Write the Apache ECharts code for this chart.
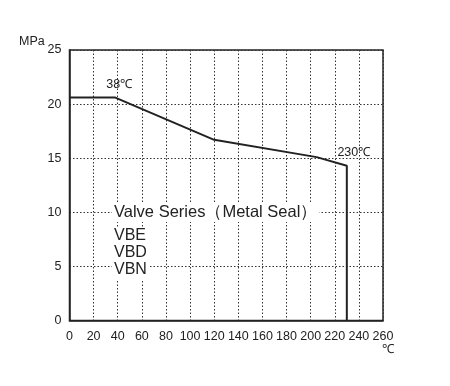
<!DOCTYPE html>
<html><head><meta charset="utf-8">
<script src="https://cdn.jsdelivr.net/npm/echarts@6/dist/echarts.min.js"></script>
<style>html,body{margin:0;padding:0;background:#fff}#c{width:450px;height:386px}</style>
</head><body><div id="c"></div>
<script>
const temps = [0, 38, 120, 205, 230, 230];
const pressures = [20.6, 20.6, 16.7, 15.1, 14.3, 0];
const xTicks = [0,20,40,60,80,100,120,140,160,180,200,220,240,260];
const yTicks = [0,5,10,15,20,25];
const annotations = [
  {x: 38, y: 20.6, text: '38℃', dx: 4, dy: -3},
  {x: 230, y: 14.3, text: '230℃', dx: 7, dy: -3}
];
const seriesNames = ['VBE', 'VBD', 'VBN'];
const titleText = 'Valve Series（Metal Seal）';

const chart = echarts.init(document.getElementById('c'), null, {renderer: 'canvas'});
const font = 'Arial, "Liberation Sans", sans-serif';
const boxText = (left, top, text, size) => ({
  type: 'text', left: left, top: top, z: 100,
  style: {text: text, fill: '#222', font: size + 'px ' + font, backgroundColor: '#fff', padding: [1, 2, 1, 2]}
});
chart.setOption({
  animation: false,
  grid: {left: 69.5, right: 67, top: 50, bottom: 65.5, show: true, borderColor: '#222', borderWidth: 1.5, backgroundColor: 'transparent'},
  xAxis: {
    type: 'value', min: 0, max: 260, interval: 20,
    axisLine: {show: true, lineStyle: {color: '#222', width: 1.5}},
    axisTick: {show: false},
    axisLabel: {color: '#222', fontSize: 12.5, fontFamily: font, margin: 10},
    splitLine: {show: true, lineStyle: {color: '#333', type: [1.5, 2], width: 1}}
  },
  yAxis: {
    type: 'value', min: 0, max: 25, interval: 5,
    axisLine: {show: true, lineStyle: {color: '#222', width: 1.5}},
    axisTick: {show: false},
    axisLabel: {color: '#222', fontSize: 12.5, fontFamily: font, margin: 8},
    splitLine: {show: true, lineStyle: {color: '#333', type: [1.5, 2], width: 1}}
  },
  series: [{
    type: 'line',
    data: temps.map((t, i) => [t, pressures[i]]),
    symbol: 'none',
    lineStyle: {color: '#222', width: 2},
    markPoint: {
      symbol: 'circle', symbolSize: 0,
      data: annotations.map(a => ({coord: [a.x, a.y], value: a.text, label: {offset: [a.dx, a.dy]}})),
      label: {show: true, formatter: p => p.value, color: '#222', fontSize: 12.5, fontFamily: font, position: 'top', distance: 4}
    }
  }],
  graphic: [
    {type: 'text', left: 19, top: 35, style: {text: 'MPa', fill: '#222', font: '12.5px ' + font}},
    {type: 'text', left: 382, top: 343, style: {text: '℃', fill: '#222', font: '12.5px ' + font}},
    boxText(112, 203, titleText, 16.5),
    boxText(112, 227, seriesNames[0], 16),
    boxText(112, 244, seriesNames[1], 16),
    boxText(112, 261, seriesNames[2], 16)
  ]
});
</script></body></html>
